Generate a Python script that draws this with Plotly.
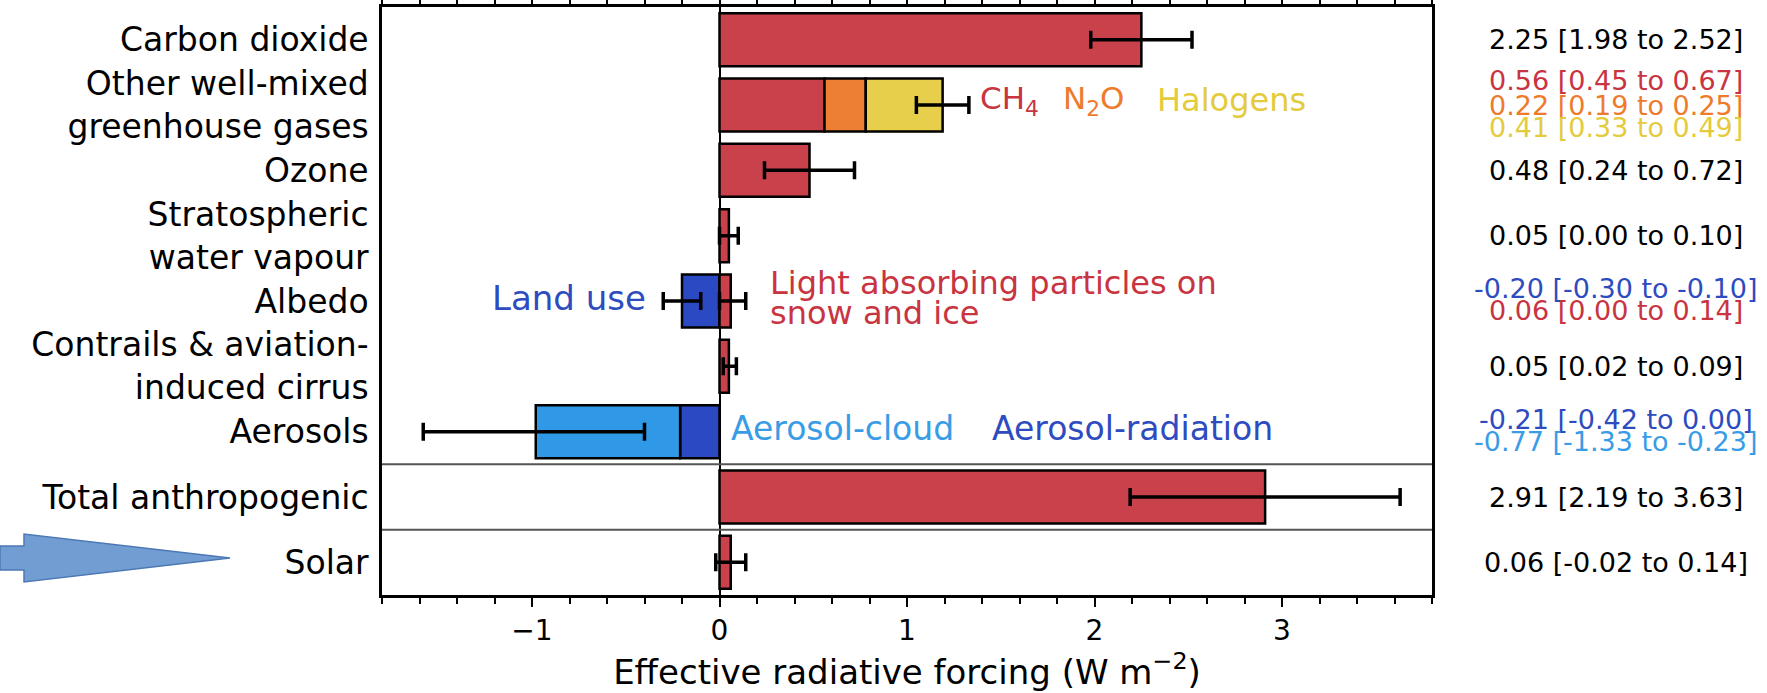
import plotly.graph_objects as go

# Forcing categories, listed top to bottom
categories = [
    "Carbon dioxide",
    "Other well-mixed<br>greenhouse gases",
    "Ozone",
    "Stratospheric<br>water vapour",
    "Albedo",
    "Contrails & aviation-<br>induced cirrus",
    "Aerosols",
    "Total anthropogenic",
    "Solar",
]

# Individual forcing components (W m-2): row index, best estimate and likely range
component_names = [
    "Carbon dioxide", "CH4", "N2O", "Halogens", "Ozone",
    "Stratospheric water vapour", "Land use", "Light absorbing particles",
    "Contrails", "Aerosol-radiation", "Aerosol-cloud",
    "Total anthropogenic", "Solar",
]
component_row = [0, 1, 1, 1, 2, 3, 4, 4, 5, 6, 6, 7, 8]
component_value = [2.25, 0.56, 0.22, 0.41, 0.48, 0.05, -0.20, 0.06, 0.05, -0.21, -0.77, 2.91, 0.06]
component_low = [1.98, 0.45, 0.19, 0.33, 0.24, 0.00, -0.30, 0.00, 0.02, -0.42, -1.33, 2.19, -0.02]
component_high = [2.52, 0.67, 0.25, 0.49, 0.72, 0.10, -0.10, 0.14, 0.09, 0.00, -0.23, 3.63, 0.14]

# Rows whose stacked components share a single combined uncertainty range
combined_rows = [1, 6]
combined_low = [1.05, -1.58]
combined_high = [1.33, -0.40]

# Styling
FONT = "DejaVu Sans"
RED, ORANGE, YELLOW = "#C9414B", "#EC7F34", "#E8CF4B"
BLUE, LIGHT_BLUE = "#2B49C2", "#2F98E7"
TXT_RED, TXT_ORANGE, TXT_YELLOW = "#C8343F", "#EE7B2C", "#E4CB3C"
TXT_BLUE, TXT_LIGHT_BLUE = "#2E4BC0", "#399CE6"

bar_color = {
    "Land use": BLUE, "Aerosol-radiation": BLUE, "Aerosol-cloud": LIGHT_BLUE,
    "N2O": ORANGE, "Halogens": YELLOW,
}
text_color = {
    "CH4": TXT_RED, "N2O": TXT_ORANGE, "Halogens": TXT_YELLOW,
    "Land use": TXT_BLUE, "Light absorbing particles": TXT_RED,
    "Aerosol-radiation": TXT_BLUE, "Aerosol-cloud": TXT_LIGHT_BLUE,
}

# Plot-area geometry in pixels (used to place decorations outside the axes)
W, H = 1767, 693
ML, MR, MT, MB = 382, 335, 7, 98
PW, PH = W - ML - MR, H - MT - MB


def px_to_paper(px, py):
    return (px - ML) / PW, (H - MB - py) / PH


fig = go.Figure()

# Stacked horizontal bars, one trace per component
for name, row, val in zip(component_names, component_row, component_value):
    fig.add_trace(go.Bar(
        y=[row], x=[val], orientation="h", width=0.81, name=name,
        marker=dict(color=bar_color.get(name, RED), line=dict(color="black", width=2.5)),
        hoverinfo="x+name",
    ))

# Uncertainty ranges: combined for stacked rows, per component elsewhere
err_x, err_y, err_lo, err_hi = [], [], [], []
for name, row, val, lo, hi in zip(component_names, component_row, component_value,
                                  component_low, component_high):
    if row in combined_rows:
        continue
    err_x.append(val); err_y.append(row); err_lo.append(lo); err_hi.append(hi)
for row, lo, hi in zip(combined_rows, combined_low, combined_high):
    total = round(sum(v for r, v in zip(component_row, component_value) if r == row), 2)
    err_x.append(total); err_y.append(row); err_lo.append(lo); err_hi.append(hi)

fig.add_trace(go.Scatter(
    x=err_x, y=err_y, mode="markers",
    marker=dict(size=1, color="rgba(0,0,0,0)"),
    error_x=dict(type="data", symmetric=False,
                 array=[h - x for h, x in zip(err_hi, err_x)],
                 arrayminus=[x - l for x, l in zip(err_x, err_lo)],
                 color="black", thickness=3.5, width=9),
    hoverinfo="skip",
))

annotations = []

# Best estimate and range written to the right of the axes
row_members = {}
for i, row in enumerate(component_row):
    row_members.setdefault(row, []).append(i)
line_offsets = {1: [0.0], 2: [-0.19, 0.15], 3: [-0.37, 0.0, 0.35]}
value_x, _ = px_to_paper(1616, 0)
for row, members in row_members.items():
    offs = line_offsets[len(members)]
    for off, i in zip(offs, members):
        name = component_names[i]
        label = f"{component_value[i]:.2f} [{component_low[i]:.2f} to {component_high[i]:.2f}]"
        color = text_color.get(name, "black") if len(members) > 1 else "black"
        annotations.append(dict(
            x=value_x, xref="paper", y=row + off, yref="y", text=label, showarrow=False,
            xanchor="center", yanchor="middle",
            font=dict(family=FONT, size=27, color=color),
        ))

# Component names drawn inside the axes
inline_labels = [
    ("CH<sub>4</sub>", 1.38, 0.93, "left", TXT_RED, 31),
    ("N<sub>2</sub>O", 1.82, 0.93, "left", TXT_ORANGE, 31),
    ("Halogens", 2.32, 0.93, "left", TXT_YELLOW, 32),
    ("Land use", -0.38, 3.96, "right", TXT_BLUE, 34),
    ("Light absorbing particles on", 0.26, 3.72, "left", TXT_RED, 32),
    ("snow and ice", 0.26, 4.19, "left", TXT_RED, 32),
    ("Aerosol-cloud", 0.05, 5.95, "left", TXT_LIGHT_BLUE, 33),
    ("Aerosol-radiation", 1.44, 5.95, "left", TXT_BLUE, 33),
]
for text, x, y, anchor, color, size in inline_labels:
    annotations.append(dict(
        x=x, y=y, xref="x", yref="y", text=text, showarrow=False,
        xanchor=anchor, yanchor="middle", align="left",
        font=dict(family=FONT, size=size, color=color),
    ))

# Separators above the total and above the natural (solar) forcing
shapes = [
    dict(type="line", xref="paper", x0=0, x1=1, yref="y", y0=y, y1=y,
         line=dict(color="#555555", width=2), layer="above")
    for y in (6.5, 7.5)
]

# Pointer arrow in the left margin aimed at the solar row
arrow_px = [(0, 546), (24, 546), (24, 534), (230, 558), (24, 582), (24, 570), (0, 570)]
pts = [px_to_paper(px, py) for px, py in arrow_px]
path = "M " + " L ".join(f"{x:.5f},{y:.5f}" for x, y in pts) + " Z"
shapes.append(dict(type="path", xref="paper", yref="paper", path=path,
                   fillcolor="#719DD2", line=dict(color="#4C78B6", width=1.5), layer="above"))

fig.update_layout(
    width=W, height=H,
    margin=dict(l=ML, r=MR, t=MT, b=MB, pad=0, autoexpand=False),
    barmode="relative",
    showlegend=False,
    plot_bgcolor="white", paper_bgcolor="white",
    font=dict(family=FONT, color="black"),
    annotations=annotations,
    shapes=shapes,
    xaxis=dict(
        range=[-1.8, 3.8], tick0=0, dtick=1, automargin=False,
        showgrid=False, zeroline=True, zerolinecolor="black", zerolinewidth=2,
        showline=True, linecolor="black", linewidth=2.5, mirror="ticks",
        ticks="outside", ticklen=9, tickwidth=2, tickcolor="black",
        minor=dict(dtick=0.2, ticks="outside", ticklen=6, tickwidth=1.5, tickcolor="black"),
        tickfont=dict(family=FONT, size=28, color="black"),
        title=dict(text="Effective radiative forcing (W m<sup>\u22122</sup>)",
                   font=dict(family=FONT, size=34, color="black"), standoff=12),
    ),
    yaxis=dict(
        range=[8.5, -0.5], tickvals=list(range(len(categories))), ticktext=categories,
        showgrid=False, zeroline=False, automargin=False,
        showline=True, linecolor="black", linewidth=2.5, mirror=True,
        ticks="", ticklabelstandoff=4,
        tickfont=dict(family=FONT, size=33, color="black"),
    ),
)

fig.write_html("out.html")
